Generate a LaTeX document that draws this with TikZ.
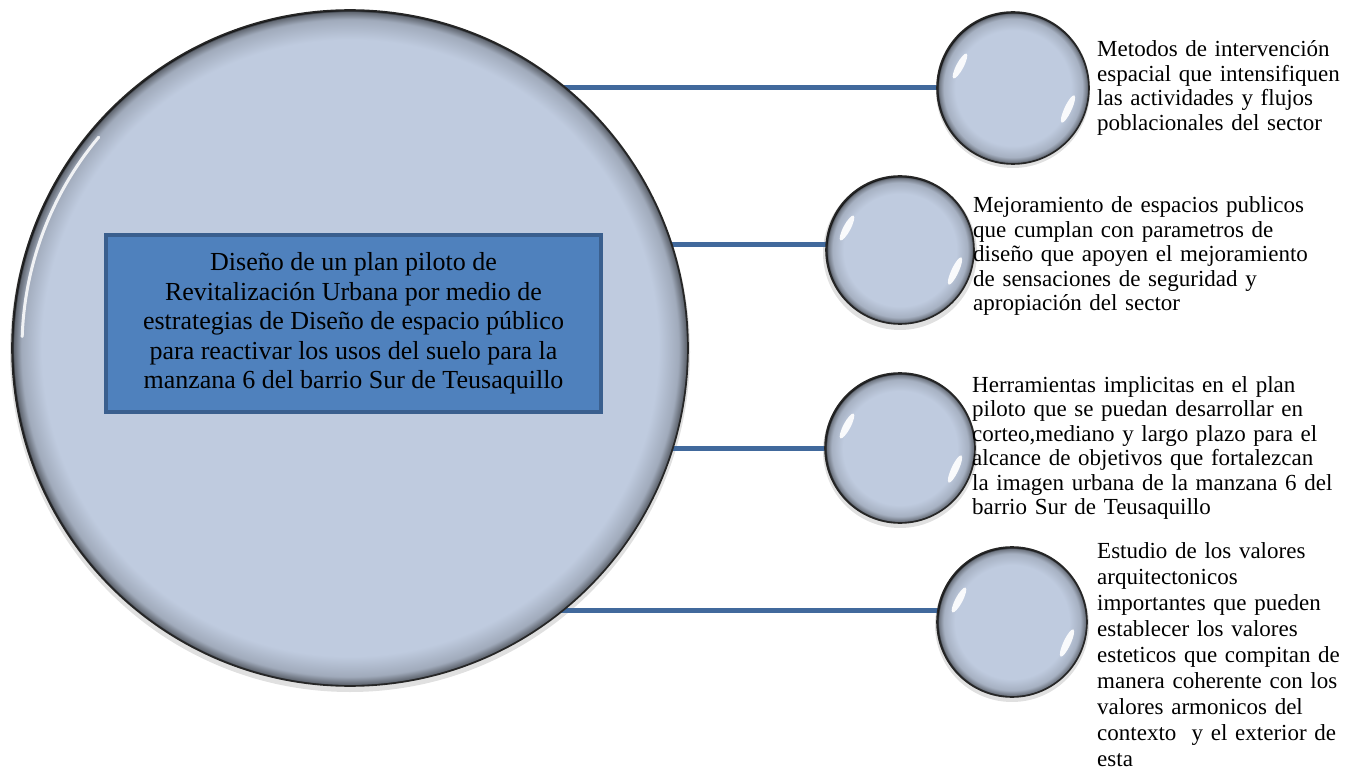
\documentclass[tikz,border=0pt]{standalone}
\usepackage{fontspec}
\setmainfont{Liberation Serif}
\usetikzlibrary{calc}
\definecolor{cfill}{HTML}{BFCBDF}
\definecolor{boxfill}{HTML}{4F81BD}
\definecolor{boxline}{HTML}{3A5F8E}
\definecolor{connc}{HTML}{41699C}
\pgfdeclareradialshading{bead}{\pgfpoint{0bp}{0bp}}{color(0bp)=(cfill); color(19bp)=(cfill); color(22.8bp)=(cfill!87!black); color(24.4bp)=(cfill!58!black); color(24.9bp)=(black); color(50bp)=(black)}
\pgfdeclareradialshading{bigbead}{\pgfpoint{0bp}{0bp}}{color(0bp)=(cfill); color(22.8bp)=(cfill); color(24.3bp)=(cfill!84!black); color(24.85bp)=(cfill!52!black); color(25bp)=(black); color(50bp)=(black)}
\pgfdeclarelayer{bg}
\pgfsetlayers{bg,main}
\tikzset{
  bead/.style={circle, shading=bead, draw=black!85, line width=1.6pt, inner sep=0pt, minimum size=#1},
  connector/.style={draw=connc, line width=5pt},
  mainbox/.style={rectangle, fill=boxfill, draw=boxline, line width=4pt, minimum width=495pt, minimum height=177pt, align=center, inner sep=0pt, font=\fontsize{26}{29.5}\selectfont},
  desc/.style={anchor=base west, text width=420pt, align=left, inner sep=0pt, font=\fontsize{23}{24.5}\selectfont},
  shine/.style={fill=white, opacity=0.92},
  shadowc/.style={fill=black, opacity=0.12}
}
\begin{document}
\begin{tikzpicture}[x=1pt,y=-1pt]
\useasboundingbox (0,0) rectangle (1361,770);
% main circle
\node[bead=676pt, shading=bigbead] (big) at (350,348) {};
% small circles
\node[bead=152pt] (c1) at (1013,88) {};
\node[bead=148pt] (c2) at (900,250) {};
\node[bead=150pt] (c3) at (900,448) {};
\node[bead=150pt] (c4) at (1012,622) {};
% highlights
\draw[white, line width=3pt, opacity=0.85, line cap=round] ($(big.center)+(-140:328)$) arc[start angle=-140, end angle=-178, radius=328];
\foreach \c in {c1,c2,c3,c4}{
  \fill[shine, shift={($(\c.center)+(-53,-22)$)}, rotate=-28] (0,0) ellipse[x radius=3.6, y radius=14];
  \fill[shine, shift={($(\c.center)+(55,21)$)}, rotate=-25] (0,0) ellipse[x radius=3.6, y radius=15];
}
% central box
\node[mainbox] (box) at (353.5,323.5) {Diseño de un plan piloto de\\Revitalización Urbana por medio de\\estrategias de Diseño de espacio público\\para reactivar los usos del suelo para la\\manzana 6 del barrio Sur de Teusaquillo};
% connectors and shadows
\begin{pgfonlayer}{bg}
\foreach \c in {c1,c2,c3,c4}{\fill[shadowc] ([yshift=-3pt]\c.center) circle[radius=77];}
\fill[shadowc] ([yshift=-4pt]big.center) circle[radius=340];
\draw[connector] (c1.center -| big.center) -- (c1.center);
\draw[connector] ([yshift=5pt]c2.center -| big.center) -- ([yshift=5pt]c2.center);
\draw[connector] (c3.center -| big.center) -- (c3.center);
\draw[connector] ([yshift=12pt]c4.center -| big.center) -- ([yshift=12pt]c4.center);
\end{pgfonlayer}
% descriptions
\node[desc] (t1) at (1097,57) {Metodos de intervención\\espacial que intensifiquen\\las actividades y flujos\\poblacionales del sector};
\node[desc] (t2) at (973,213) {Mejoramiento de espacios publicos\\que cumplan con parametros de\\diseño que apoyen el mejoramiento\\de sensaciones de seguridad y\\apropiación del sector};
\node[desc] (t3) at (972,392) {Herramientas implicitas en el plan\\piloto que se puedan desarrollar en\\corteo,mediano y largo plazo para el\\alcance de objetivos que fortalezcan\\la imagen urbana de la manzana 6 del\\barrio Sur de Teusaquillo};
\node[desc, font=\fontsize{23}{26.1}\selectfont] (t4) at (1097,558) {Estudio de los valores\\arquitectonicos\\importantes que pueden\\establecer los valores\\esteticos que compitan de\\manera coherente con los\\valores armonicos del\\contexto~ y el exterior de\\esta};
\end{tikzpicture}
\end{document}
